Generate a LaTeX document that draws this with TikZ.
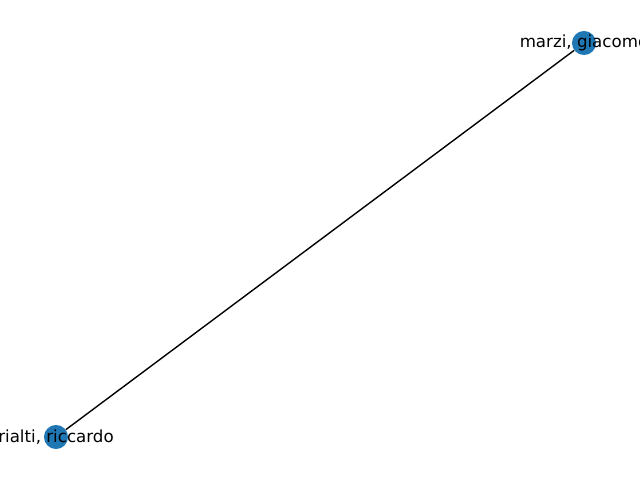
\documentclass[tikz,border=0pt]{standalone}
\usepackage{fontspec}
\setmainfont{DejaVu Sans}
\usetikzlibrary{positioning}
\definecolor{nodeblue}{HTML}{1F77B4}

\begin{document}
\begin{tikzpicture}[x=0.72pt, y=0.72pt,
  person/.style={circle, fill=nodeblue, minimum size=17.3pt, inner sep=0pt},
  personname/.style={font=\fontsize{12}{14}\selectfont, inner sep=0pt}]
  % frame of the figure
  \useasboundingbox (0,0) rectangle (640,480);
  \clip (0,0) rectangle (640,480);
  % people
  \node[person] (marzi) at (584,437) {};
  \node[person] (rialti) at (56,43) {};
  % collaboration
  \draw[black, line width=1pt] (rialti) -- (marzi);
  % names
  \node[personname] (marzilabel) at (marzi) {marzi, giacomo};
  \node[personname] (rialtilabel) at (rialti) {rialti, riccardo};
\end{tikzpicture}
\end{document}
